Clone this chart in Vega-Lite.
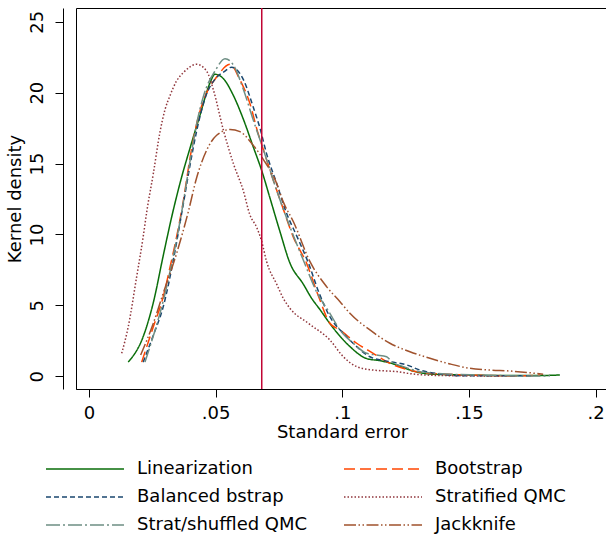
{
  "$schema": "https://vega.github.io/schema/vega-lite/v6.json",
  "width": 532,
  "height": 381,
  "autosize": "none",
  "padding": {"left": 76, "top": 8, "right": 0, "bottom": 145},
  "config": {
    "font": "DejaVu Sans",
    "view": {"stroke": "#000", "strokeWidth": 1},
    "axis": {"domainColor": "#000", "tickColor": "#000", "labelColor": "#000", "titleColor": "#000", "labelFontSize": 18, "titleFontSize": 18, "titleFontWeight": "normal", "grid": false, "tickSize": 8, "domainWidth": 1, "tickWidth": 1},
    "legend": {"orient": "none", "legendX": -1, "legendY": 451, "direction": "horizontal", "columns": 2, "symbolType": "M-4.333,0H4.333", "symbolSize": 324, "symbolStrokeWidth": 1.5, "labelFontSize": 18, "labelOffset": 42, "columnPadding": 33, "rowPadding": 9, "labelLimit": 300, "labelColor": "#000"}
  },
  "datasets": {
    "curves": [
      {"s": "Linearization", "x": 0.0155, "y": 1.0}, {"s": "Linearization", "x": 0.0214, "y": 2.8}, {"s": "Linearization", "x": 0.0254, "y": 5.2}, {"s": "Linearization", "x": 0.0293, "y": 8.5}, {"s": "Linearization", "x": 0.0326, "y": 11.2}, {"s": "Linearization", "x": 0.0365, "y": 14.0}, {"s": "Linearization", "x": 0.0399, "y": 16.1}, {"s": "Linearization", "x": 0.0438, "y": 18.4}, {"s": "Linearization", "x": 0.0478, "y": 20.7}, {"s": "Linearization", "x": 0.0497, "y": 21.3}, {"s": "Linearization", "x": 0.053, "y": 21.0}, {"s": "Linearization", "x": 0.057, "y": 19.8}, {"s": "Linearization", "x": 0.061, "y": 18.1}, {"s": "Linearization", "x": 0.0648, "y": 16.2}, {"s": "Linearization", "x": 0.0682, "y": 14.5}, {"s": "Linearization", "x": 0.0714, "y": 12.6}, {"s": "Linearization", "x": 0.0754, "y": 10.2}, {"s": "Linearization", "x": 0.0793, "y": 8.0}, {"s": "Linearization", "x": 0.0846, "y": 6.5}, {"s": "Linearization", "x": 0.0879, "y": 5.5}, {"s": "Linearization", "x": 0.0912, "y": 4.7}, {"s": "Linearization", "x": 0.0958, "y": 3.55}, {"s": "Linearization", "x": 0.103, "y": 2.1}, {"s": "Linearization", "x": 0.1096, "y": 1.25}, {"s": "Linearization", "x": 0.1149, "y": 1.1}, {"s": "Linearization", "x": 0.1215, "y": 0.8}, {"s": "Linearization", "x": 0.128, "y": 0.37}, {"s": "Linearization", "x": 0.1346, "y": 0.16}, {"s": "Linearization", "x": 0.1478, "y": 0.09}, {"s": "Linearization", "x": 0.1675, "y": 0.05}, {"s": "Linearization", "x": 0.1754, "y": 0.05}, {"s": "Linearization", "x": 0.1859, "y": 0.09},

      {"s": "Bootstrap", "x": 0.0208, "y": 1.0}, {"s": "Bootstrap", "x": 0.0254, "y": 3.5}, {"s": "Bootstrap", "x": 0.0293, "y": 5.6}, {"s": "Bootstrap", "x": 0.032, "y": 7.7}, {"s": "Bootstrap", "x": 0.0346, "y": 9.85}, {"s": "Bootstrap", "x": 0.0369, "y": 12.0}, {"s": "Bootstrap", "x": 0.04, "y": 15.5}, {"s": "Bootstrap", "x": 0.0425, "y": 17.8}, {"s": "Bootstrap", "x": 0.0465, "y": 20.0}, {"s": "Bootstrap", "x": 0.0504, "y": 21.1}, {"s": "Bootstrap", "x": 0.0557, "y": 22.0}, {"s": "Bootstrap", "x": 0.0596, "y": 20.9}, {"s": "Bootstrap", "x": 0.0635, "y": 19.25}, {"s": "Bootstrap", "x": 0.0668, "y": 17.1}, {"s": "Bootstrap", "x": 0.0688, "y": 16.0}, {"s": "Bootstrap", "x": 0.0728, "y": 13.8}, {"s": "Bootstrap", "x": 0.0767, "y": 11.8}, {"s": "Bootstrap", "x": 0.0806, "y": 9.85}, {"s": "Bootstrap", "x": 0.0859, "y": 7.97}, {"s": "Bootstrap", "x": 0.0905, "y": 5.7}, {"s": "Bootstrap", "x": 0.0951, "y": 3.74}, {"s": "Bootstrap", "x": 0.0991, "y": 3.26}, {"s": "Bootstrap", "x": 0.1057, "y": 2.33}, {"s": "Bootstrap", "x": 0.1122, "y": 1.62}, {"s": "Bootstrap", "x": 0.1188, "y": 0.92}, {"s": "Bootstrap", "x": 0.1254, "y": 0.49}, {"s": "Bootstrap", "x": 0.1346, "y": 0.21}, {"s": "Bootstrap", "x": 0.1543, "y": 0.07}, {"s": "Bootstrap", "x": 0.1675, "y": 0.02}, {"s": "Bootstrap", "x": 0.178, "y": 0.09},

      {"s": "Balanced bstrap", "x": 0.0214, "y": 1.0}, {"s": "Balanced bstrap", "x": 0.0254, "y": 2.9}, {"s": "Balanced bstrap", "x": 0.0293, "y": 4.9}, {"s": "Balanced bstrap", "x": 0.0333, "y": 8.2}, {"s": "Balanced bstrap", "x": 0.0366, "y": 11.5}, {"s": "Balanced bstrap", "x": 0.04, "y": 15.0}, {"s": "Balanced bstrap", "x": 0.0425, "y": 17.3}, {"s": "Balanced bstrap", "x": 0.046, "y": 19.7}, {"s": "Balanced bstrap", "x": 0.05, "y": 21.0}, {"s": "Balanced bstrap", "x": 0.0535, "y": 21.5}, {"s": "Balanced bstrap", "x": 0.0563, "y": 21.8}, {"s": "Balanced bstrap", "x": 0.061, "y": 20.9}, {"s": "Balanced bstrap", "x": 0.0648, "y": 19.0}, {"s": "Balanced bstrap", "x": 0.0675, "y": 17.5}, {"s": "Balanced bstrap", "x": 0.0701, "y": 15.7}, {"s": "Balanced bstrap", "x": 0.0741, "y": 13.6}, {"s": "Balanced bstrap", "x": 0.078, "y": 11.5}, {"s": "Balanced bstrap", "x": 0.082, "y": 9.9}, {"s": "Balanced bstrap", "x": 0.0866, "y": 8.0}, {"s": "Balanced bstrap", "x": 0.091, "y": 5.8}, {"s": "Balanced bstrap", "x": 0.0951, "y": 4.2}, {"s": "Balanced bstrap", "x": 0.1004, "y": 3.03}, {"s": "Balanced bstrap", "x": 0.1057, "y": 2.09}, {"s": "Balanced bstrap", "x": 0.1109, "y": 1.38}, {"s": "Balanced bstrap", "x": 0.1188, "y": 1.03}, {"s": "Balanced bstrap", "x": 0.1254, "y": 0.8}, {"s": "Balanced bstrap", "x": 0.1307, "y": 0.44}, {"s": "Balanced bstrap", "x": 0.1386, "y": 0.16}, {"s": "Balanced bstrap", "x": 0.1478, "y": 0.03}, {"s": "Balanced bstrap", "x": 0.175, "y": 0.03},

      {"s": "Stratified QMC", "x": 0.0129, "y": 1.62}, {"s": "Stratified QMC", "x": 0.0155, "y": 3.5}, {"s": "Stratified QMC", "x": 0.0188, "y": 7.0}, {"s": "Stratified QMC", "x": 0.0214, "y": 9.85}, {"s": "Stratified QMC", "x": 0.0228, "y": 11.6}, {"s": "Stratified QMC", "x": 0.0254, "y": 14.3}, {"s": "Stratified QMC", "x": 0.028, "y": 17.2}, {"s": "Stratified QMC", "x": 0.03, "y": 18.8}, {"s": "Stratified QMC", "x": 0.032, "y": 19.8}, {"s": "Stratified QMC", "x": 0.0345, "y": 20.8}, {"s": "Stratified QMC", "x": 0.0372, "y": 21.4}, {"s": "Stratified QMC", "x": 0.0425, "y": 22.0}, {"s": "Stratified QMC", "x": 0.0465, "y": 21.5}, {"s": "Stratified QMC", "x": 0.0491, "y": 20.2}, {"s": "Stratified QMC", "x": 0.053, "y": 17.4}, {"s": "Stratified QMC", "x": 0.057, "y": 15.0}, {"s": "Stratified QMC", "x": 0.0609, "y": 13.1}, {"s": "Stratified QMC", "x": 0.0635, "y": 11.4}, {"s": "Stratified QMC", "x": 0.0662, "y": 10.5}, {"s": "Stratified QMC", "x": 0.0682, "y": 9.5}, {"s": "Stratified QMC", "x": 0.0701, "y": 8.1}, {"s": "Stratified QMC", "x": 0.0741, "y": 6.5}, {"s": "Stratified QMC", "x": 0.0767, "y": 5.5}, {"s": "Stratified QMC", "x": 0.0793, "y": 4.8}, {"s": "Stratified QMC", "x": 0.0866, "y": 3.74}, {"s": "Stratified QMC", "x": 0.0951, "y": 2.56}, {"s": "Stratified QMC", "x": 0.1004, "y": 1.38}, {"s": "Stratified QMC", "x": 0.1057, "y": 0.68}, {"s": "Stratified QMC", "x": 0.1122, "y": 0.44}, {"s": "Stratified QMC", "x": 0.1215, "y": 0.33}, {"s": "Stratified QMC", "x": 0.128, "y": 0.16}, {"s": "Stratified QMC", "x": 0.14, "y": 0.05}, {"s": "Stratified QMC", "x": 0.165, "y": 0.02},

      {"s": "Strat/shuffled QMC", "x": 0.0221, "y": 1.0}, {"s": "Strat/shuffled QMC", "x": 0.026, "y": 3.2}, {"s": "Strat/shuffled QMC", "x": 0.0293, "y": 5.3}, {"s": "Strat/shuffled QMC", "x": 0.0333, "y": 8.5}, {"s": "Strat/shuffled QMC", "x": 0.0366, "y": 11.6}, {"s": "Strat/shuffled QMC", "x": 0.04, "y": 15.3}, {"s": "Strat/shuffled QMC", "x": 0.0425, "y": 17.8}, {"s": "Strat/shuffled QMC", "x": 0.0451, "y": 19.7}, {"s": "Strat/shuffled QMC", "x": 0.05, "y": 21.6}, {"s": "Strat/shuffled QMC", "x": 0.0537, "y": 22.4}, {"s": "Strat/shuffled QMC", "x": 0.057, "y": 21.95}, {"s": "Strat/shuffled QMC", "x": 0.061, "y": 20.2}, {"s": "Strat/shuffled QMC", "x": 0.0648, "y": 18.1}, {"s": "Strat/shuffled QMC", "x": 0.0688, "y": 16.0}, {"s": "Strat/shuffled QMC", "x": 0.0741, "y": 13.1}, {"s": "Strat/shuffled QMC", "x": 0.0793, "y": 10.55}, {"s": "Strat/shuffled QMC", "x": 0.0846, "y": 8.2}, {"s": "Strat/shuffled QMC", "x": 0.09, "y": 5.9}, {"s": "Strat/shuffled QMC", "x": 0.0951, "y": 4.44}, {"s": "Strat/shuffled QMC", "x": 0.0991, "y": 3.26}, {"s": "Strat/shuffled QMC", "x": 0.1043, "y": 2.33}, {"s": "Strat/shuffled QMC", "x": 0.1096, "y": 1.62}, {"s": "Strat/shuffled QMC", "x": 0.1135, "y": 1.5}, {"s": "Strat/shuffled QMC", "x": 0.1175, "y": 1.38}, {"s": "Strat/shuffled QMC", "x": 0.1195, "y": 1.03}, {"s": "Strat/shuffled QMC", "x": 0.1241, "y": 0.68}, {"s": "Strat/shuffled QMC", "x": 0.1307, "y": 0.33}, {"s": "Strat/shuffled QMC", "x": 0.1412, "y": 0.16}, {"s": "Strat/shuffled QMC", "x": 0.1543, "y": 0.09}, {"s": "Strat/shuffled QMC", "x": 0.174, "y": 0.02}, {"s": "Strat/shuffled QMC", "x": 0.182, "y": 0.03},

      {"s": "Jackknife", "x": 0.0204, "y": 1.5}, {"s": "Jackknife", "x": 0.0254, "y": 3.74}, {"s": "Jackknife", "x": 0.0293, "y": 5.85}, {"s": "Jackknife", "x": 0.0346, "y": 8.67}, {"s": "Jackknife", "x": 0.0392, "y": 11.6}, {"s": "Jackknife", "x": 0.0425, "y": 14.0}, {"s": "Jackknife", "x": 0.0465, "y": 15.96}, {"s": "Jackknife", "x": 0.0504, "y": 17.0}, {"s": "Jackknife", "x": 0.0557, "y": 17.4}, {"s": "Jackknife", "x": 0.0596, "y": 17.25}, {"s": "Jackknife", "x": 0.0648, "y": 16.3}, {"s": "Jackknife", "x": 0.0688, "y": 15.3}, {"s": "Jackknife", "x": 0.0741, "y": 13.6}, {"s": "Jackknife", "x": 0.0767, "y": 12.3}, {"s": "Jackknife", "x": 0.0807, "y": 10.9}, {"s": "Jackknife", "x": 0.0872, "y": 8.1}, {"s": "Jackknife", "x": 0.0938, "y": 6.32}, {"s": "Jackknife", "x": 0.0991, "y": 5.26}, {"s": "Jackknife", "x": 0.103, "y": 4.44}, {"s": "Jackknife", "x": 0.1109, "y": 3.27}, {"s": "Jackknife", "x": 0.1188, "y": 2.33}, {"s": "Jackknife", "x": 0.1267, "y": 1.73}, {"s": "Jackknife", "x": 0.1346, "y": 1.27}, {"s": "Jackknife", "x": 0.1425, "y": 0.87}, {"s": "Jackknife", "x": 0.1504, "y": 0.56}, {"s": "Jackknife", "x": 0.1583, "y": 0.44}, {"s": "Jackknife", "x": 0.1662, "y": 0.37}, {"s": "Jackknife", "x": 0.174, "y": 0.25}, {"s": "Jackknife", "x": 0.1793, "y": 0.14}
    ],
    "marker": [{"x": 0.0682}]
  },
  "layer": [
    {
      "data": {"name": "curves"},
      "mark": {"type": "line", "strokeWidth": 1.5, "interpolate": "monotone"},
      "encoding": {
        "x": {"field": "x", "type": "quantitative", "title": "Standard error",
              "scale": {"domain": [-0.00513, 0.2049], "nice": false, "zero": false},
              "axis": {"values": [0, 0.05, 0.1, 0.15, 0.2], "labelExpr": "datum.value == 0 ? '0' : replace(format(datum.value, '.2~f'), '0.', '.')", "labelPadding": 7, "titlePadding": 1, "labelFlush": false}},
        "y": {"field": "y", "type": "quantitative", "title": "Kernel density",
              "scale": {"domain": [-0.896, 25.97], "nice": false, "zero": false},
              "axis": {"values": [0, 5, 10, 15, 20, 25], "offset": 13, "labelAngle": -90, "labelAlign": "center", "labelBaseline": "bottom", "labelPadding": 9, "titlePadding": 4}},
        "color": {"field": "s", "type": "nominal", "title": null,
                  "scale": {"domain": ["Linearization", "Bootstrap", "Balanced bstrap", "Stratified QMC", "Strat/shuffled QMC", "Jackknife"],
                            "range": ["#0a6e0a", "#ff4500", "#1a476f", "#90353b", "#6e8e84", "#a0522d"]}},
        "strokeDash": {"field": "s", "type": "nominal", "title": null,
                       "scale": {"domain": ["Linearization", "Bootstrap", "Balanced bstrap", "Stratified QMC", "Strat/shuffled QMC", "Jackknife"],
                                 "range": [[1, 0], [11, 5], [5, 3], [1.5, 2], [14, 3, 2, 3], [12, 2.5, 1.5, 2.5, 1.5, 2.5]]}}
      }
    },
    {
      "data": {"name": "marker"},
      "mark": {"type": "rule", "color": "#c10534", "strokeWidth": 1.5},
      "encoding": {"x": {"field": "x", "type": "quantitative"}}
    }
  ]
}
